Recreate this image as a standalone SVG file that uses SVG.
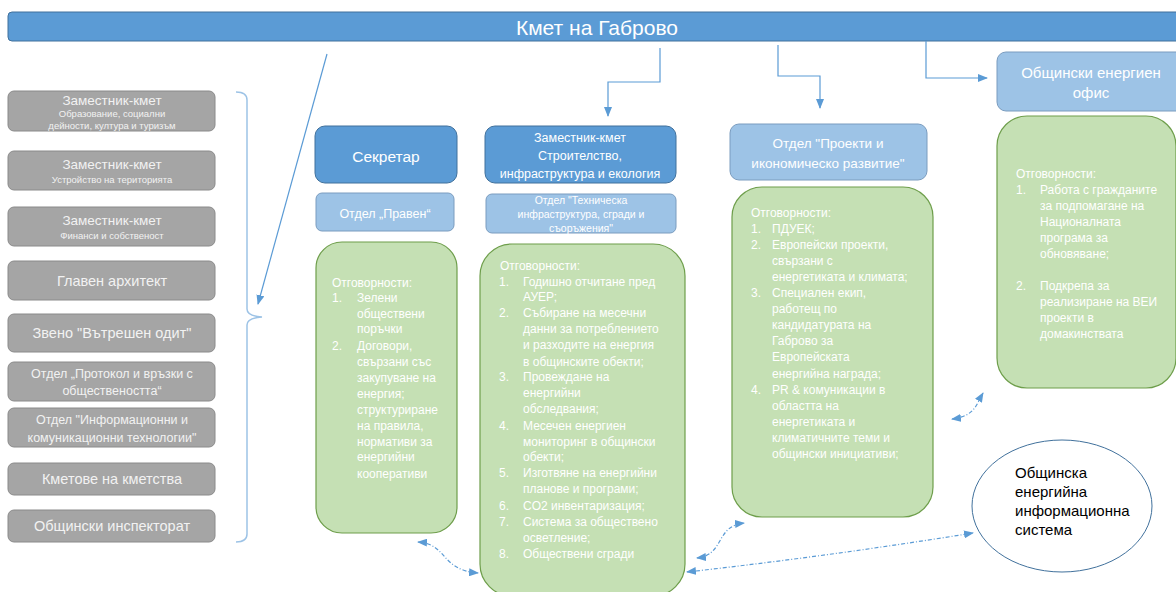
<svg xmlns="http://www.w3.org/2000/svg" width="1176" height="592" viewBox="0 0 1176 592">
<defs>
<style>
text{font-family:"Liberation Sans",Arial,sans-serif}
.gray{fill:#A5A5A5;stroke:#8A8A8A;stroke-width:1}
.gt{fill:#F2F2F2;text-anchor:middle}
.blue{fill:#5B9BD5;stroke:#41719C;stroke-width:1}
.lblue{fill:#9DC3E6;stroke:#7A9CBF;stroke-width:1}
.green{fill:#C5E0B4;stroke:#6E9E4B;stroke-width:1.2}
.wt{fill:#FFFFFF;font-size:12px}
.ct{fill:#FFFFFF;text-anchor:middle}
.conn{fill:none;stroke:#5B9BD5;stroke-width:1.2}
.dash{fill:none;stroke:#5B9BD5;stroke-width:1.2;stroke-dasharray:4 2 1 2}
</style>
<marker id="arr" viewBox="0 0 10 8" refX="9" refY="4" markerWidth="10" markerHeight="8" markerUnits="userSpaceOnUse" orient="auto-start-reverse">
<path d="M0,0 L10,4 L0,8 z" fill="#5B9BD5"/>
</marker>
</defs>

<g id="mayor">
<rect x="8" y="12" width="1180" height="29" rx="4" class="blue"/>
<text x="597" y="34.5" class="ct" font-size="21">Кмет на Габрово</text>
</g>

<g id="left-column">
<g id="n-dep1"><rect x="8" y="91" width="207" height="40" rx="6" class="gray"/>
<text x="112" y="105" class="gt" font-size="13.5">Заместник-кмет</text>
<text x="112" y="116.5" class="gt" font-size="9.5">Образование, социални</text>
<text x="112" y="129" class="gt" font-size="9.5">дейности, култура и туризъм</text></g>
<g id="n-dep2"><rect x="8" y="151" width="207" height="39" rx="6" class="gray"/>
<text x="112" y="168.5" class="gt" font-size="13.5">Заместник-кмет</text>
<text x="112" y="182.5" class="gt" font-size="9.5">Устройство на територията</text></g>
<g id="n-dep3"><rect x="8" y="207" width="207" height="39" rx="6" class="gray"/>
<text x="112" y="224.5" class="gt" font-size="13.5">Заместник-кмет</text>
<text x="112" y="238.5" class="gt" font-size="9.5">Финанси и собственост</text></g>
<g id="n-arch"><rect x="8" y="261" width="207" height="39" rx="6" class="gray"/>
<text x="112" y="286" class="gt" font-size="14.5">Главен архитект</text></g>
<g id="n-audit"><rect x="8" y="314" width="207" height="38" rx="6" class="gray"/>
<text x="112" y="338" class="gt" font-size="14.5">Звено "Вътрешен одит"</text></g>
<g id="n-protocol"><rect x="8" y="362" width="207" height="39" rx="6" class="gray"/>
<text x="112" y="377.5" class="gt" font-size="12.5">Отдел „Протокол и връзки с</text>
<text x="112" y="394.5" class="gt" font-size="12.5">обществеността“</text></g>
<g id="n-ict"><rect x="8" y="408" width="207" height="39" rx="6" class="gray"/>
<text x="112" y="423.5" class="gt" font-size="12.5">Отдел "Информационни и</text>
<text x="112" y="442" class="gt" font-size="12.5">комуникационни технологии"</text></g>
<g id="n-mayors"><rect x="8" y="463" width="207" height="32" rx="6" class="gray"/>
<text x="112" y="484" class="gt" font-size="14.5">Кметове на кметства</text></g>
<g id="n-inspect"><rect x="8" y="510" width="207" height="32" rx="6" class="gray"/>
<text x="112" y="531" class="gt" font-size="14.5">Общински инспекторат</text></g>
</g>

<g id="n-secretary">
<rect x="315" y="126" width="142" height="57" rx="10" class="blue"/>
<text x="386" y="162" class="ct" font-size="15.5">Секретар</text>
</g>
<g id="n-legal">
<rect x="316" y="193" width="138" height="38" rx="6" class="lblue"/>
<text x="385" y="217.5" class="ct" font-size="12.5">Отдел „Правен“</text>
</g>
<g id="n-legal-resp">
<rect x="316" y="242" width="141" height="291" rx="26" class="green"/>
<text class="wt">
<tspan x="332" y="287">Отговорности:</tspan>
<tspan x="332" y="302">1.</tspan><tspan x="357" y="302">Зелени</tspan>
<tspan x="357" y="318">обществени</tspan>
<tspan x="357" y="333">поръчки</tspan>
<tspan x="332" y="349.5">2.</tspan><tspan x="357" y="349.5">Договори,</tspan>
<tspan x="357" y="366">свързани със</tspan>
<tspan x="357" y="382">закупуване на</tspan>
<tspan x="357" y="397.5">енергия;</tspan>
<tspan x="357" y="414">структуриране</tspan>
<tspan x="357" y="430">на правила,</tspan>
<tspan x="357" y="445.5">нормативи за</tspan>
<tspan x="357" y="461">енергийни</tspan>
<tspan x="357" y="478">кооперативи</tspan>
</text>
</g>

<g id="n-deputy-infra">
<rect x="485" y="126" width="191" height="57" rx="10" class="blue"/>
<text x="580" y="142" class="ct" font-size="12.5">Заместник-кмет</text>
<text x="580" y="160" class="ct" font-size="12.5">Строителство,</text>
<text x="580" y="178" class="ct" font-size="12.5">инфраструктура и екология</text>
</g>
<g id="n-tech">
<rect x="486" y="194" width="190" height="39" rx="6" class="lblue"/>
<text x="581" y="204" class="ct" font-size="10.5">Отдел "Техническа</text>
<text x="581" y="218" class="ct" font-size="10.5">инфраструктура, сгради и</text>
<text x="581" y="232" class="ct" font-size="10.5">съоръжения"</text>
</g>
<g id="n-tech-resp">
<rect x="480" y="244" width="205" height="352" rx="32" class="green"/>
<text class="wt">
<tspan x="500" y="270">Отговорности:</tspan>
<tspan x="499" y="286">1.</tspan><tspan x="523" y="286">Годишно отчитане пред</tspan>
<tspan x="523" y="301">АУЕР;</tspan>
<tspan x="499" y="317">2.</tspan><tspan x="523" y="317">Събиране на месечни</tspan>
<tspan x="523" y="333">данни за потреблението</tspan>
<tspan x="523" y="349">и разходите на енергия</tspan>
<tspan x="523" y="366">в общинските обекти;</tspan>
<tspan x="499" y="381">3.</tspan><tspan x="523" y="381">Провеждане на</tspan>
<tspan x="523" y="397">енергийни</tspan>
<tspan x="523" y="413">обследвания;</tspan>
<tspan x="499" y="430">4.</tspan><tspan x="523" y="430">Месечен енергиен</tspan>
<tspan x="523" y="446">мониторинг в общински</tspan>
<tspan x="523" y="461">обекти;</tspan>
<tspan x="499" y="477">5.</tspan><tspan x="523" y="477">Изготвяне на енергийни</tspan>
<tspan x="523" y="493">планове и програми;</tspan>
<tspan x="499" y="510">6.</tspan><tspan x="523" y="510">CO2 инвентаризация;</tspan>
<tspan x="499" y="526">7.</tspan><tspan x="523" y="526">Система за обществено</tspan>
<tspan x="523" y="542">осветление;</tspan>
<tspan x="499" y="558">8.</tspan><tspan x="523" y="558">Обществени сгради</tspan>
</text>
</g>

<g id="n-projects">
<rect x="730" y="124" width="197" height="56" rx="9" class="lblue"/>
<text x="828" y="147.5" class="ct" font-size="13.5">Отдел "Проекти и</text>
<text x="828" y="167.5" class="ct" font-size="13.5">икономическо развитие"</text>
</g>
<g id="n-projects-resp">
<rect x="732" y="187" width="201" height="330" rx="30" class="green"/>
<text class="wt">
<tspan x="751" y="217">Отговорности:</tspan>
<tspan x="751" y="233">1.</tspan><tspan x="772" y="233">ПДУЕК;</tspan>
<tspan x="751" y="249">2.</tspan><tspan x="772" y="249">Европейски проекти,</tspan>
<tspan x="772" y="265">свързани с</tspan>
<tspan x="772" y="281">енергетиката и климата;</tspan>
<tspan x="751" y="297">3.</tspan><tspan x="772" y="297">Специален екип,</tspan>
<tspan x="772" y="313">работещ по</tspan>
<tspan x="772" y="329">кандидатурата на</tspan>
<tspan x="772" y="345">Габрово за</tspan>
<tspan x="772" y="361">Европейската</tspan>
<tspan x="772" y="378">енергийна награда;</tspan>
<tspan x="751" y="394">4.</tspan><tspan x="772" y="394">PR &amp; комуникации в</tspan>
<tspan x="772" y="410">областта на</tspan>
<tspan x="772" y="426">енергетиката и</tspan>
<tspan x="772" y="442">климатичните теми и</tspan>
<tspan x="772" y="458">общински инициативи;</tspan>
</text>
</g>

<g id="n-office">
<rect x="997" y="52" width="190" height="59" rx="9" class="lblue"/>
<text x="1091" y="78" class="ct" font-size="15">Общински енергиен</text>
<text x="1091" y="98" class="ct" font-size="15">офис</text>
</g>
<g id="n-office-resp">
<rect x="997" y="116" width="179" height="272" rx="30" class="green"/>
<text class="wt">
<tspan x="1016" y="178">Отговорности:</tspan>
<tspan x="1016" y="194">1.</tspan><tspan x="1040" y="194">Работа с гражданите</tspan>
<tspan x="1040" y="210">за подпомагане на</tspan>
<tspan x="1040" y="226">Националната</tspan>
<tspan x="1040" y="242">програма за</tspan>
<tspan x="1040" y="258">обновяване;</tspan>
<tspan x="1016" y="290">2.</tspan><tspan x="1040" y="290">Подкрепа за</tspan>
<tspan x="1040" y="306">реализиране на ВЕИ</tspan>
<tspan x="1040" y="322">проекти в</tspan>
<tspan x="1040" y="338">домакинствата</tspan>
</text>
</g>

<g id="n-system">
<ellipse cx="1062" cy="506" rx="90" ry="66" fill="#FFFFFF" stroke="#41719C" stroke-width="1"/>
<text font-size="15" fill="#000000">
<tspan x="1015" y="478">Общинска</tspan>
<tspan x="1015" y="497">енергийна</tspan>
<tspan x="1015" y="516">информационна</tspan>
<tspan x="1015" y="535">система</tspan>
</text>
</g>

<g id="connectors">
<path d="M236,92 Q247,92 247,100 L247,309 Q247,316 262,317 Q247,318 247,325 L247,534 Q247,542 236,542" fill="none" stroke="#9DC3E6" stroke-width="1.5"/>
<path d="M327,54 L258,304" class="conn" marker-end="url(#arr)"/>
<path d="M660,48 L660,82 L608,82 L608,116" class="conn" marker-end="url(#arr)"/>
<path d="M778,45 L778,76 L820,76 L820,108" class="conn" marker-end="url(#arr)"/>
<path d="M926,41 L926,78 L987,78" class="conn" marker-end="url(#arr)"/>
<path d="M418,542 C448,544 440,570 478,573" class="dash" marker-start="url(#arr)" marker-end="url(#arr)"/>
<path d="M697,558 C725,555 715,526 744,523" class="dash" marker-start="url(#arr)" marker-end="url(#arr)"/>
<path d="M687,572 Q830,556 973,533" class="dash" marker-start="url(#arr)" marker-end="url(#arr)"/>
<path d="M952,419 C975,416 976,405 983,393" class="dash" marker-start="url(#arr)" marker-end="url(#arr)"/>
</g>
</svg>
